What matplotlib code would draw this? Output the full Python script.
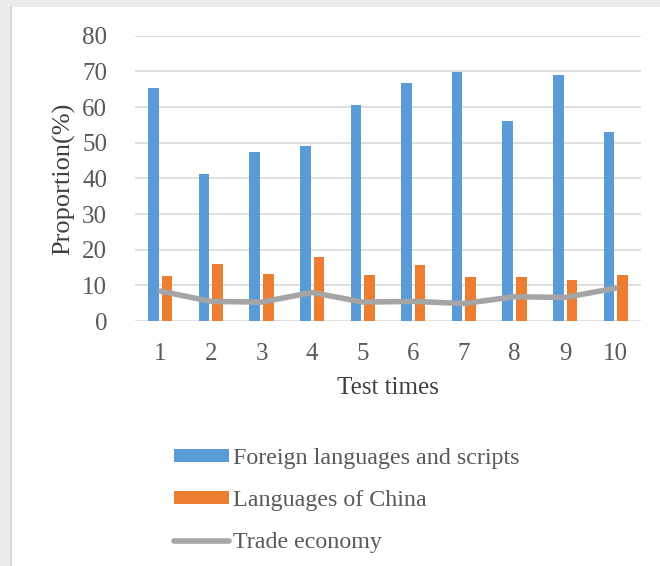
import numpy as np
import matplotlib
matplotlib.use("Agg")
import matplotlib.pyplot as plt
from matplotlib.patches import Rectangle
from matplotlib.lines import Line2D

plt.rcParams['font.family'] = ['Liberation Serif', 'DejaVu Serif']

tests = ["1", "2", "3", "4", "5", "6", "7", "8", "9", "10"]
foreign = [65.2, 41.1, 47.4, 49.1, 60.7, 66.7, 69.9, 56.1, 69.0, 52.9]
china = [12.7, 15.9, 13.2, 18.0, 12.9, 15.7, 12.2, 12.4, 11.5, 12.9]
trade = [8.4, 5.5, 5.3, 8.0, 5.3, 5.5, 4.9, 6.8, 6.6, 9.2]
yticks = [0, 10, 20, 30, 40, 50, 60, 70, 80]

BLUE = "#5b9bd5"
ORANGE = "#ed7d31"
GREY = "#a5a5a5"
TXT = "#595959"

fig = plt.figure(figsize=(6.6, 5.66), dpi=100)
fig.patch.set_facecolor("#ececec")

# white chart frame with a faint left edge
fig.patches.append(Rectangle((11 / 660, 0), 1, 1 - 7 / 566, transform=fig.transFigure,
                             facecolor="white", edgecolor="none", zorder=-10))
fig.lines.append(Line2D([11 / 660, 11 / 660], [0, 1 - 7 / 566], transform=fig.transFigure,
                        color="#d9d9d9", lw=1.5, zorder=-9))

ax = fig.add_axes([135 / 660, 245 / 566, 506 / 660, 285.3 / 566])
ax.set_facecolor("none")

x = np.arange(len(tests))
w = 0.21
b1 = ax.bar(x - 0.135, foreign, w, color=BLUE, zorder=3)
b2 = ax.bar(x + 0.135, china, w, color=ORANGE, zorder=3)
l1, = ax.plot(x, trade, color=GREY, lw=4.0, solid_capstyle="round", zorder=4)

ax.set_xlim(-0.5, len(tests) - 0.5)
ax.set_ylim(0, 80)
ax.set_yticks(yticks)
ax.set_xticks(x)
ax.set_xticklabels(tests)
ax.yaxis.grid(True, color="#d9d9d9", lw=1.2, zorder=0)
ax.set_axisbelow(True)
for s in ax.spines.values():
    s.set_visible(False)
ax.tick_params(axis="both", length=0, labelsize=18, labelcolor=TXT)
ax.tick_params(axis="y", pad=20)
ax.tick_params(axis="x", pad=16)

ax.set_xlabel("Test times", fontsize=18, color="#404040")
ax.xaxis.set_label_coords(0.5, -56 / 285.3)
ax.set_ylabel("Proportion(%)", fontsize=19, color="#404040")
ax.yaxis.set_label_coords(-60 / 506, 0.5)

fig.legend([b1, b2, l1], ["Foreign languages and scripts", "Languages of China", "Trade economy"],
           loc="upper left", bbox_to_anchor=(174 / 660, 1 - 448 / 566),
           frameon=False, fontsize=17.3, labelcolor=TXT, handlelength=2.3, handleheight=0.5,
           handletextpad=0.15, labelspacing=0.88, borderpad=0, borderaxespad=0)

fig.savefig("out.png", dpi=100, facecolor=fig.get_facecolor())
